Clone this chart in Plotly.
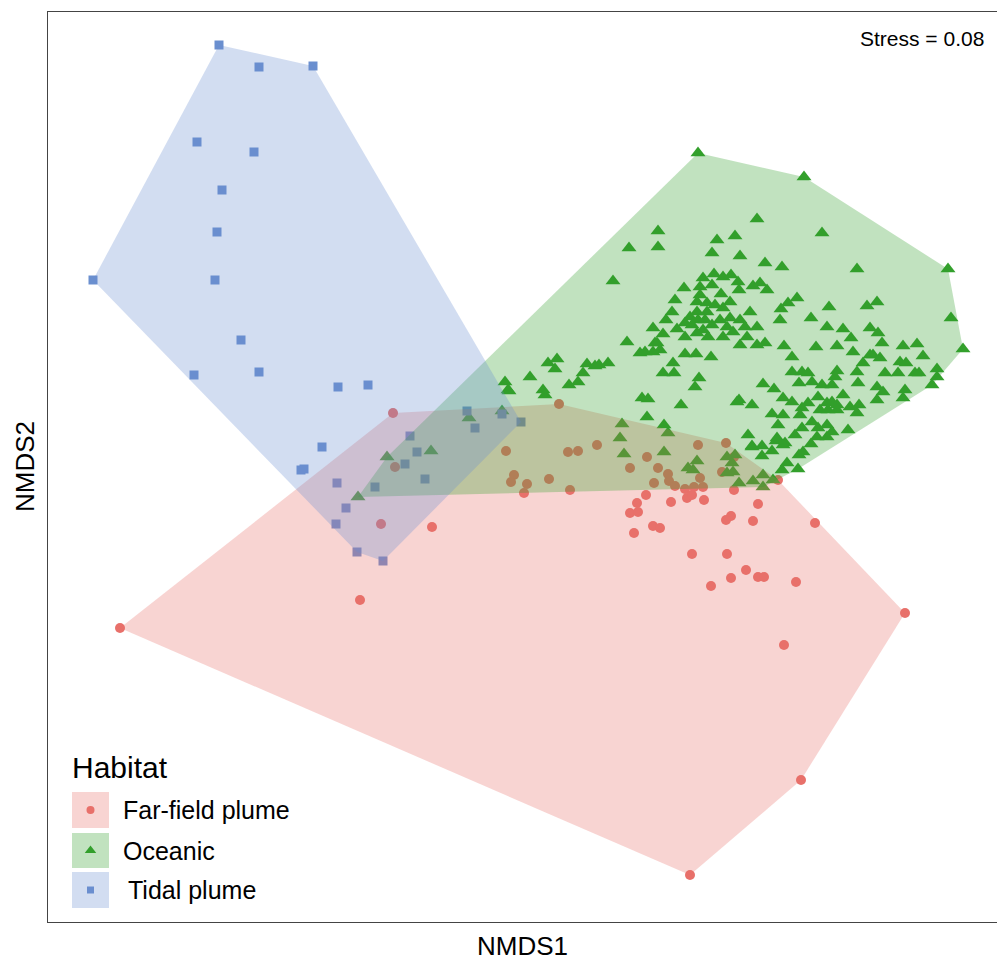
import plotly.graph_objects as go

# NMDS scores (arbitrary units; NMDS2 axis is drawn reversed)
far_field = [
    (120, 628), (360, 600), (381, 524), (432, 527), (393, 413), (395, 467), (559, 404),
    (506, 451), (514, 475), (511, 482), (527, 484), (524, 493), (549, 479), (570, 490),
    (568, 452), (578, 451), (597, 445), (647, 457), (630, 468), (658, 468), (668, 474),
    (669, 481), (654, 483), (675, 486), (685, 489), (694, 487), (700, 478), (703, 487),
    (698, 445), (726, 443), (734, 457), (722, 472), (734, 490), (646, 495), (637, 503),
    (671, 502), (687, 498), (692, 495), (704, 500), (630, 513), (638, 512), (634, 533),
    (653, 526), (660, 528), (778, 480), (758, 504), (731, 516), (726, 520), (753, 521),
    (815, 523), (692, 554), (727, 554), (746, 570), (731, 578), (758, 577), (764, 577),
    (711, 586), (796, 582), (784, 645), (905, 613), (801, 780), (690, 875),
]

oceanic = [
    (698, 153), (804, 177), (757, 219), (658, 231), (735, 236), (717, 240), (822, 233),
    (629, 248), (658, 247), (712, 253), (740, 256), (765, 263), (782, 267), (857, 269),
    (948, 269), (613, 281),
    (684, 288), (675, 300), (672, 312), (666, 320), (653, 328), (663, 334), (627, 342),
    (655, 343), (677, 329), (685, 337), (703, 278), (714, 274), (723, 277), (731, 275),
    (712, 285), (700, 287), (738, 282), (739, 290), (753, 286), (700, 295), (721, 294),
    (697, 302), (707, 303), (715, 305), (730, 302), (723, 308), (697, 312), (707, 312),
    (690, 317), (698, 320), (705, 320), (685, 323), (692, 325), (712, 325), (720, 320),
    (730, 318), (740, 320), (750, 312), (745, 327), (727, 327), (703, 330), (697, 333),
    (708, 337), (733, 332), (723, 337), (747, 337), (757, 327),
    (767, 290), (760, 283), (797, 298), (788, 303), (781, 309), (780, 320), (829, 307),
    (867, 306), (877, 302), (811, 318), (827, 327), (843, 329), (851, 338), (870, 328),
    (878, 333), (951, 318), (765, 343), (784, 346), (816, 347), (837, 346), (882, 343),
    (903, 346), (917, 344), (963, 349),
    (685, 354), (696, 354), (711, 357), (740, 345), (757, 345), (792, 357), (853, 352),
    (863, 363), (873, 355), (699, 378), (695, 387), (763, 384), (774, 389), (792, 372),
    (802, 372), (808, 373), (812, 382), (799, 383), (822, 385), (837, 371), (835, 377),
    (857, 372), (858, 383), (832, 385), (877, 387), (739, 400), (752, 405), (783, 398),
    (792, 402), (808, 403), (802, 408), (818, 397), (827, 403), (832, 402), (837, 405),
    (843, 395), (820, 410), (828, 410), (837, 410), (850, 407), (859, 405), (857, 413),
    (877, 400), (772, 414), (783, 415), (800, 415), (778, 425), (812, 422), (818, 428),
    (827, 425), (832, 432), (802, 428), (795, 435), (848, 430), (748, 435), (777, 438),
    (785, 443), (817, 437), (827, 437), (762, 446), (752, 446),
    (923, 356), (870, 355), (880, 358), (900, 362), (906, 363), (885, 373), (898, 373),
    (915, 373), (919, 373), (937, 369), (937, 377), (932, 385), (883, 392), (905, 390),
    (903, 398),
    (502, 411), (505, 382), (508, 390), (530, 377), (543, 390), (545, 395), (548, 363),
    (557, 359), (555, 369), (569, 385), (578, 382), (583, 373), (587, 364), (595, 366),
    (599, 365), (608, 363), (640, 353), (645, 352), (657, 343), (660, 350), (653, 352),
    (663, 373), (673, 363), (674, 373), (642, 398), (648, 399),
    (681, 405), (647, 417), (622, 424), (620, 438), (664, 425), (668, 433), (624, 454),
    (664, 452), (697, 461), (688, 468), (693, 470), (733, 472), (727, 473), (739, 483),
    (737, 402),
    (727, 457), (732, 463), (735, 455), (752, 447), (762, 456), (772, 451), (783, 445),
    (776, 441), (799, 455), (803, 452), (811, 444), (787, 463), (782, 470), (798, 469),
    (753, 481), (763, 475), (763, 487), (773, 480),
    (469, 418), (509, 391), (387, 457), (431, 451), (358, 497),
]

tidal = [
    (219, 45), (259, 67), (313, 66), (197, 142), (254, 152), (222, 190), (217, 232),
    (93, 280), (215, 280), (241, 340), (194, 375), (259, 372), (338, 387), (368, 385),
    (467, 411), (502, 414), (521, 422), (475, 428), (410, 436), (417, 452), (405, 464),
    (425, 479), (337, 483), (375, 487), (346, 508), (322, 447), (301, 470), (304, 469),
    (336, 524), (357, 552), (383, 561),
]

groups = ["Far-field plume", "Oceanic", "Tidal plume"]
colors = {"Far-field plume": (232, 112, 106), "Oceanic": (51, 160, 44), "Tidal plume": (106, 143, 207)}
symbols = {"Far-field plume": "circle", "Oceanic": "triangle-up", "Tidal plume": "square"}
sizes = {"Far-field plume": 10, "Oceanic": 13, "Tidal plume": 9}
key_sizes = {"Far-field plume": 8, "Oceanic": 10, "Tidal plume": 7}
data = {"Far-field plume": far_field, "Oceanic": oceanic, "Tidal plume": tidal}
stress = 0.08


def convex_hull(pts):
    pts = sorted(set(pts))
    def cross(o, a, b):
        return (a[0] - o[0]) * (b[1] - o[1]) - (a[1] - o[1]) * (b[0] - o[0])
    lower, upper = [], []
    for p in pts:
        while len(lower) >= 2 and cross(lower[-2], lower[-1], p) <= 0:
            lower.pop()
        lower.append(p)
    for p in reversed(pts):
        while len(upper) >= 2 and cross(upper[-2], upper[-1], p) <= 0:
            upper.pop()
        upper.append(p)
    return lower[:-1] + upper[:-1]


def rgb(c, a=1.0):
    return f"rgba({c[0]},{c[1]},{c[2]},{a})"


fig = go.Figure()

for g in groups:
    xs = [p[0] for p in data[g]]
    ys = [p[1] for p in data[g]]
    fig.add_trace(go.Scatter(
        x=xs, y=ys, mode="markers", name=g, showlegend=False,
        marker=dict(symbol=symbols[g], size=sizes[g], color=rgb(colors[g]), line=dict(width=0)),
    ))

for g in groups:
    h = convex_hull(data[g])
    hx = [p[0] for p in h] + [h[0][0]]
    hy = [p[1] for p in h] + [h[0][1]]
    fig.add_trace(go.Scatter(
        x=hx, y=hy, mode="lines", fill="toself", fillcolor=rgb(colors[g], 0.3),
        line=dict(width=0, color="rgba(0,0,0,0)"), hoverinfo="skip", showlegend=False,
    ))

# custom legend (keys with filled background)
key_x0, key_x1 = 72, 109
key_rows = [(792, 828), (833, 868), (872, 908)]
shapes = []
for g, (y0, y1) in zip(groups, key_rows):
    shapes.append(dict(type="rect", xref="x", yref="y", x0=key_x0, x1=key_x1, y0=y0, y1=y1,
                       fillcolor=rgb(colors[g], 0.3), line=dict(width=0), layer="above"))
for g, (y0, y1) in zip(groups, key_rows):
    fig.add_trace(go.Scatter(
        x=[(key_x0 + key_x1) / 2], y=[(y0 + y1) / 2], mode="markers", showlegend=False,
        hoverinfo="skip",
        marker=dict(symbol=symbols[g], size=key_sizes[g], color=rgb(colors[g]), line=dict(width=0)),
    ))

font_family = "Liberation Sans, Arial, sans-serif"
annotations = [
    dict(x=70, y=767, xref="x", yref="y", text="Habitat", showarrow=False, xanchor="left",
         yanchor="middle", font=dict(size=30, color="black", family=font_family)),
    dict(x=986, y=38, xref="x", yref="y", text=f"Stress = {stress}", showarrow=False,
         xanchor="right", yanchor="middle", font=dict(size=21, color="black", family=font_family)),
]
label_x = [121, 121, 126]
for g, (y0, y1), lxx in zip(groups, key_rows, label_x):
    annotations.append(dict(x=lxx, y=(y0 + y1) / 2, xref="x", yref="y", text=g, showarrow=False,
                            xanchor="left", yanchor="middle",
                            font=dict(size=25, color="black", family=font_family)))

# plot area in pixels: x 48..997, y 12..922
annotations.append(dict(x=(522 - 48) / 949, y=(922 - 946) / 910, xref="paper", yref="paper",
                        text="NMDS1", showarrow=False, xanchor="center", yanchor="middle",
                        font=dict(size=26, color="black", family=font_family)))
annotations.append(dict(x=(25 - 48) / 949, y=(922 - 467) / 910, xref="paper", yref="paper",
                        text="NMDS2", showarrow=False, xanchor="center", yanchor="middle",
                        textangle=-90, font=dict(size=26, color="black", family=font_family)))

axis_common = dict(showgrid=False, zeroline=False, showticklabels=False, ticks="",
                   showline=True, mirror=True, linecolor="#444444", linewidth=1)
fig.update_layout(
    width=997, height=963,
    margin=dict(l=48, r=0, t=12, b=41),
    plot_bgcolor="white", paper_bgcolor="white",
    xaxis=dict(range=[48, 997], **axis_common),
    yaxis=dict(range=[922, 12], **axis_common),
    shapes=shapes, annotations=annotations,
    showlegend=False,
    font=dict(family=font_family),
)

fig.write_html("out.html")
